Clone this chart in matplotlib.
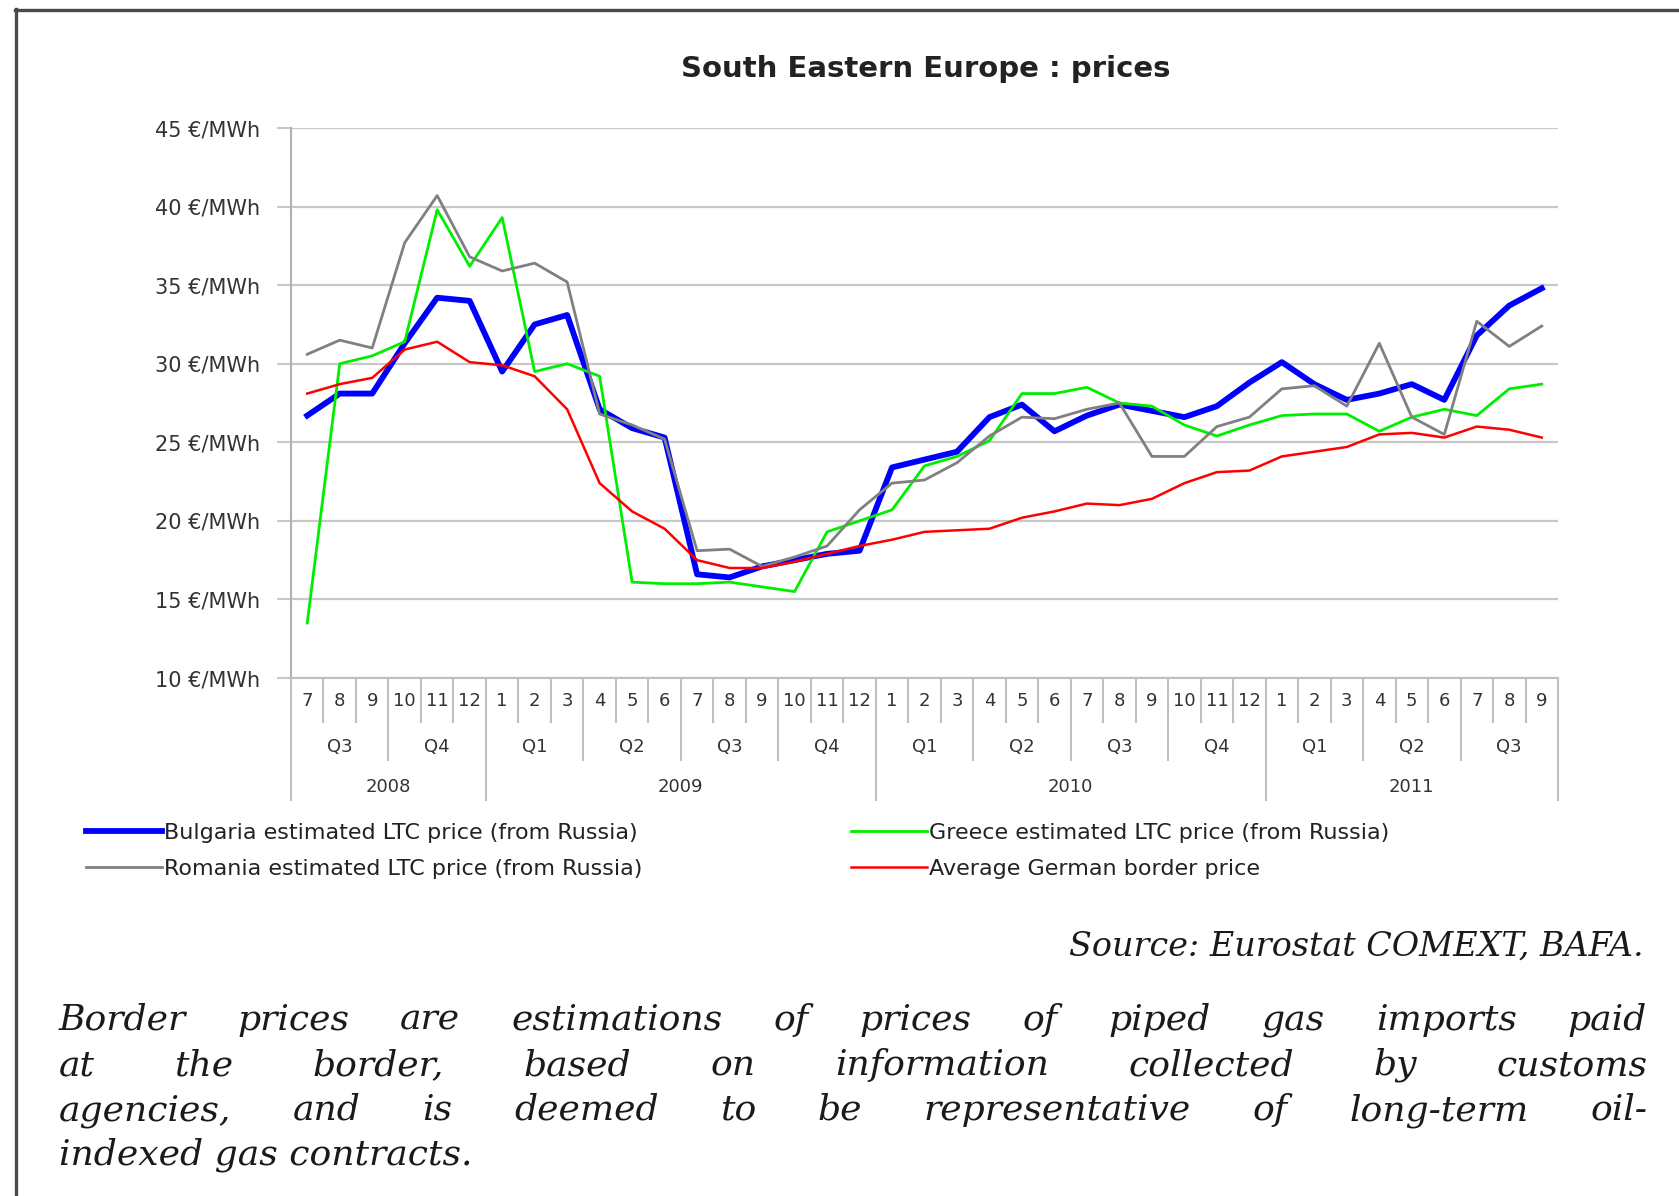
import matplotlib
matplotlib.use('Agg')
import matplotlib.pyplot as plt
from matplotlib.lines import Line2D

W, H = 1679, 1196

# 39 months, Jul 2008 .. Sep 2011
months = ['7', '8', '9', '10', '11', '12'] + [str(m) for m in range(1, 13)] * 2 + [str(m) for m in range(1, 10)]
quarters = ['Q3', 'Q4', 'Q1', 'Q2', 'Q3', 'Q4', 'Q1', 'Q2', 'Q3', 'Q4', 'Q1', 'Q2', 'Q3']
years = ['2008', '2009', '2010', '2011']
year_len = [6, 12, 12, 9]

bulgaria = [26.7, 28.1, 28.1, 31.3, 34.2, 34.0, 29.5, 32.5, 33.1, 27.1, 25.9, 25.3,
            16.6, 16.4, 17.1, 17.5, 17.9, 18.1, 23.4, 23.9, 24.4, 26.6, 27.4, 25.7,
            26.7, 27.4, 27.0, 26.6, 27.3, 28.8, 30.1, 28.7, 27.7, 28.1, 28.7, 27.7, 31.8, 33.7, 34.8]
greece = [13.5, 30.0, 30.5, 31.4, 39.8, 36.2, 39.3, 29.5, 30.0, 29.2, 16.1, 16.0,
          16.0, 16.1, 15.8, 15.5, 19.3, 20.0, 20.7, 23.5, 24.1, 25.1, 28.1, 28.1,
          28.5, 27.5, 27.3, 26.1, 25.4, 26.1, 26.7, 26.8, 26.8, 25.7, 26.6, 27.1, 26.7, 28.4, 28.7]
romania = [30.6, 31.5, 31.0, 37.7, 40.7, 36.8, 35.9, 36.4, 35.2, 26.8, 26.1, 25.2,
           18.1, 18.2, 17.1, 17.7, 18.4, 20.7, 22.4, 22.6, 23.7, 25.4, 26.6, 26.5,
           27.1, 27.5, 24.1, 24.1, 26.0, 26.6, 28.4, 28.6, 27.3, 31.3, 26.6, 25.5, 32.7, 31.1, 32.4]
german = [28.1, 28.7, 29.1, 30.9, 31.4, 30.1, 29.9, 29.2, 27.1, 22.4, 20.6, 19.5,
          17.5, 17.0, 17.0, 17.4, 17.9, 18.4, 18.8, 19.3, 19.4, 19.5, 20.2, 20.6,
          21.1, 21.0, 21.4, 22.4, 23.1, 23.2, 24.1, 24.4, 24.7, 25.5, 25.6, 25.3, 26.0, 25.8, 25.3]

yticks = [10, 15, 20, 25, 30, 35, 40, 45]

source_text = 'Source: Eurostat COMEXT, BAFA.'
para_lines = ['Border prices are estimations of prices of piped gas imports paid',
              'at the border, based on information collected by customs',
              'agencies, and is deemed to be representative of long-term oil-',
              'indexed gas contracts.']

fig = plt.figure(figsize=(W / 100, H / 100), dpi=100)
fig.patch.set_facecolor('white')

# plot area in pixels
left, right, top, bottom = 291, 1558, 128, 678
ax = fig.add_axes([left / W, 1 - bottom / H, (right - left) / W, (bottom - top) / H])
x = list(range(len(months)))

lb, = ax.plot(x, bulgaria, color='#0000ff', lw=4.2, solid_joinstyle='round')
lg, = ax.plot(x, greece, color='#00ee00', lw=2.0)
lr, = ax.plot(x, romania, color='#808080', lw=2.0)
ld, = ax.plot(x, german, color='#ff0000', lw=1.8)

ax.set_xlim(-0.5, len(months) - 0.5)
ax.set_ylim(10, 45)
ax.set_yticks(yticks)
ax.set_yticklabels([f'{v} €/MWh' for v in yticks])
ax.yaxis.grid(True, color='#c8c8c8', lw=1.6)
ax.set_axisbelow(True)
for s in ['top', 'right']:
    ax.spines[s].set_visible(False)
ax.spines['left'].set_color('#b0b0b0')
ax.spines['left'].set_linewidth(1.5)
ax.spines['bottom'].set_color('#c0c0c0')
ax.spines['bottom'].set_linewidth(1.5)
ax.tick_params(axis='y', length=10, width=1.5, color='#c8c8c8', pad=12,
               labelsize=15, labelcolor='#333333')

ax.set_xticks(x)
ax.set_xticklabels(months)
ax.tick_params(axis='x', length=0, pad=10, labelsize=13, labelcolor='#333333')


def rowy(py):
    return (bottom - py) / (bottom - top)


tr = ax.get_xaxis_transform()
# quarter and year labels
pos = 0
for q in quarters:
    n = 3
    ax.text(pos + (n - 1) / 2, rowy(747), q, transform=tr, ha='center', va='center',
            fontsize=13, color='#333333')
    pos += n
pos = 0
for yr, n in zip(years, year_len):
    ax.text(pos + (n - 1) / 2, rowy(787), yr, transform=tr, ha='center', va='center',
            fontsize=13, color='#333333')
    pos += n

# category separators
for k in range(len(months) + 1):
    if k in (0, len(months)) or months[k] == '1':
        yb = rowy(800)
    elif months[k] in ('4', '7', '10'):
        yb = rowy(760)
    else:
        yb = rowy(722)
    ax.plot([k - 0.5, k - 0.5], [0, yb], transform=tr, clip_on=False,
            color='#c0c0c0', lw=1.5)

fig.text(926 / W, 1 - 69 / H, 'South Eastern Europe : prices', ha='center', va='center',
         fontsize=21, fontweight='bold', color='#222222')

leg_kw = dict(loc='upper left', frameon=False, fontsize=16, handlelength=3.4,
              handletextpad=0.12, labelspacing=0.72, borderpad=0, borderaxespad=0,
              labelcolor='#222222')
fig.legend([lb, lr], ['Bulgaria estimated LTC price (from Russia)',
                      'Romania estimated LTC price (from Russia)'],
           bbox_to_anchor=(86 / W, 1 - 823 / H), **leg_kw)
fig.legend([lg, ld], ['Greece estimated LTC price (from Russia)',
                      'Average German border price'],
           bbox_to_anchor=(851 / W, 1 - 823 / H), **leg_kw)

# outer frame
fig.add_artist(Line2D([16 / W, 16 / W], [0, 1 - 9 / H], transform=fig.transFigure,
                      color='#4a4a4a', lw=2.4))
fig.add_artist(Line2D([15 / W, 1], [1 - 10 / H, 1 - 10 / H], transform=fig.transFigure,
                      color='#4a4a4a', lw=2.4))

serif = dict(family='DejaVu Serif', style='italic', color='#1a1a1a')
fig.text(1644 / W, 1 - 956 / H, source_text, ha='right', va='baseline', fontsize=24, **serif)

fig.canvas.draw()
r = fig.canvas.get_renderer()
para_base = [1030, 1075, 1120, 1165]
x0, x1 = 59, 1647
for i, (line, py) in enumerate(zip(para_lines, para_base)):
    if i == len(para_lines) - 1:
        fig.text(x0 / W, 1 - py / H, line, ha='left', va='baseline', fontsize=26, **serif)
        continue
    words = line.split()
    ts = [fig.text(0, 1 - py / H, w, ha='left', va='baseline', fontsize=26, **serif) for w in words]
    widths = [t.get_window_extent(r).width for t in ts]
    gap = (x1 - x0 - sum(widths)) / (len(words) - 1)
    xp = x0
    for t, wd in zip(ts, widths):
        t.set_x(xp / W)
        xp += wd + gap

fig.savefig('out.png', dpi=100)
